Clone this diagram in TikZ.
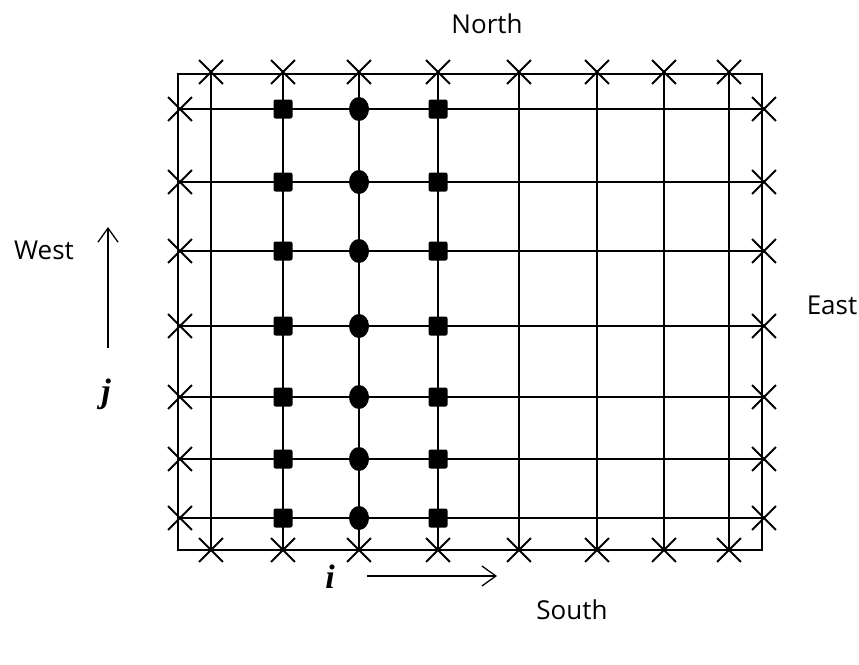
\documentclass[tikz,border=0pt]{standalone}
\usepackage{fontspec}
\setmainfont{Open Sans}
\newfontfamily\idxfont{Liberation Serif}
\usetikzlibrary{arrows.meta, shapes.misc, shapes.geometric}

\begin{document}
\begin{tikzpicture}[x=1pt, y=-1pt, >={Straight Barb[length=14pt,width=20pt]},
  gridline/.style={line width=1.9pt},
  bnd/.style={cross out, draw, line width=1.8pt, minimum size=22pt, inner sep=0pt},
  sqnode/.style={rectangle, fill, rounded corners=2pt, minimum size=19pt, inner sep=0pt},
  dotnode/.style={ellipse, fill, minimum width=20pt, minimum height=24pt, inner sep=0pt},
  lbl/.style={font=\fontsize{26}{30}\selectfont},
  idx/.style={font=\fontsize{34}{40}\selectfont\idxfont\bfseries\itshape}]
  \useasboundingbox (0,0) rectangle (859,664);
  % outer frame
  \coordinate (nw) at (178,74);
  \coordinate (se) at (762,550);
  \draw[gridline] (nw) rectangle (se);
  % columns i, boundary points north and south
  \foreach \c/\x in {1/211,2/283,3/359,4/438,5/519,6/597,7/664,8/729} {
    \coordinate (t\c) at (\x,74);
    \coordinate (b\c) at (\x,550);
    \draw[gridline] (t\c) -- (b\c);
    \node[bnd] (nx\c) at (\x,72) {};
    \node[bnd] (sx\c) at (b\c) {};
  }
  % rows j, boundary points west and east, interior markers
  \foreach \r/\y in {1/109,2/182,3/251,4/326,5/397,6/459,7/518} {
    \coordinate (w\r) at (178,\y);
    \coordinate (e\r) at (762,\y);
    \draw[gridline] (w\r) -- (e\r);
    \node[bnd] (wx\r) at (180,\y) {};
    \node[bnd] (ex\r) at (764,\y) {};
    \node[sqnode] (sa\r) at (283,\y) {};
    \node[dotnode] (cb\r) at (359,\y) {};
    \node[sqnode] (sc\r) at (438,\y) {};
  }
  % directions
  \node[lbl] (north) at (487,24) {North};
  \node[lbl] (west) at (44,250) {West};
  \node[lbl] (east) at (832,305) {East};
  \node[lbl] (south) at (572,610) {South};
  % index arrows
  \node[idx] (jlbl) at (106,394) {j};
  \node[idx] (ilbl) at (330,577) {i};
  \coordinate (jtail) at (108,348);
  \coordinate (jhead) at (108,227);
  \draw[->, line width=1.3pt] (jtail) -- (jhead);
  \coordinate (itail) at (367,576);
  \coordinate (ihead) at (497,576);
  \draw[->, line width=1.3pt] (itail) -- (ihead);
\end{tikzpicture}
\end{document}
